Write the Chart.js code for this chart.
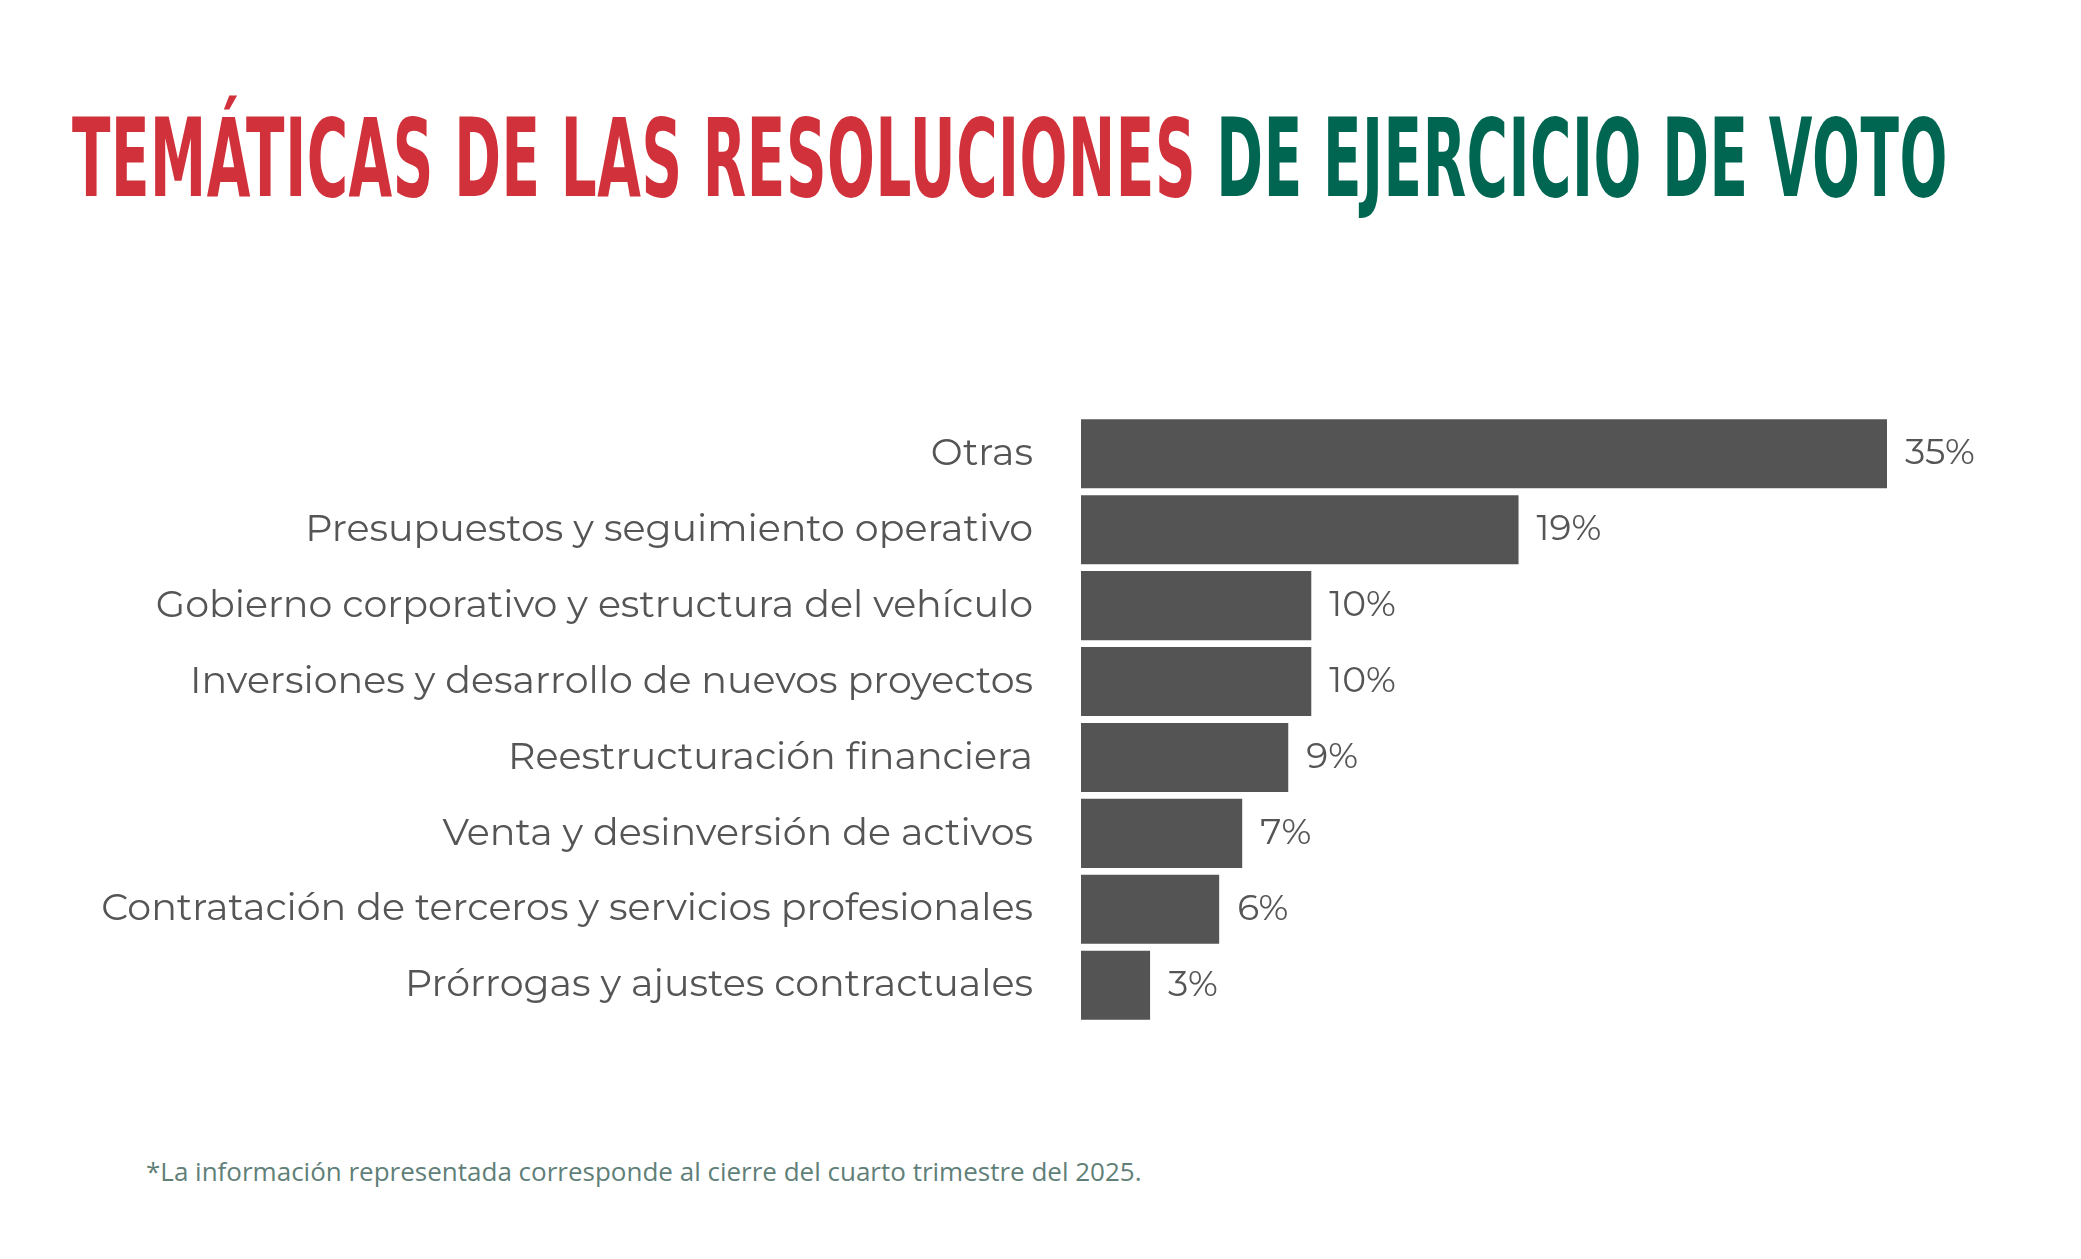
<!DOCTYPE html>
<html>
<head>
<meta charset="utf-8">
<script src="https://cdn.jsdelivr.net/npm/chart.js@4"></script>
<style>
  body { margin: 0; background: #fff; width: 2081px; height: 1259px; position: relative; overflow: hidden; }
  #title { position: absolute; left: 72px; top: 105px; font-family: "Liberation Sans Narrow", "DejaVu Sans Condensed", sans-serif; font-weight: bold; font-size: 108px; letter-spacing: 1px; white-space: nowrap; line-height: 1; transform: scaleX(0.58); transform-origin: left top; }
  #title .r { color: #d1313a; }
  #title .g { color: #006652; }
  #wrap { position: absolute; left: 14px; top: 345px; width: 2000px; height: 749px; }
  #note { position: absolute; left: 146px; top: 1153px; font-family: "Open Sans", sans-serif; font-size: 26px; color: #5f7f78; }
</style>
</head>
<body>
<div id="title"><span class="r">TEMÁTICAS DE LAS RESOLUCIONES</span> <span class="g">DE EJERCICIO DE VOTO</span></div>
<div id="wrap"><canvas id="c"></canvas></div>
<div id="note">*La información representada corresponde al cierre del cuarto trimestre del 2025.</div>
<script>
// categorías y porcentajes
const categories = [
  'Otras',
  'Presupuestos y seguimiento operativo',
  'Gobierno corporativo y estructura del vehículo',
  'Inversiones y desarrollo de nuevos proyectos',
  'Reestructuración financiera',
  'Venta y desinversión de activos',
  'Contratación de terceros y servicios profesionales',
  'Prórrogas y ajustes contractuales'
];
const values = [35, 19, 10, 10, 9, 7, 6, 3];

// etiquetas de valor al final de cada barra
Chart.register({id: 'valueLabels', afterDatasetsDraw: (chart) => {
  const ctx = chart.ctx;
  const meta = chart.getDatasetMeta(0);
  ctx.save();
  ctx.font = '36px Montserrat, "Open Sans", sans-serif';
  ctx.fillStyle = '#555';
  ctx.textBaseline = 'middle';
  meta.data.forEach((bar, i) => {
    ctx.fillText(values[i] + '%', bar.x + 18, bar.y);
  });
  ctx.restore();
}});

new Chart(document.getElementById('c').getContext('2d'), {
  type: 'bar',
  data: {
    labels: categories,
    datasets: [{
      data: values,
      backgroundColor: '#545454',
      barPercentage: 0.91,
      categoryPercentage: 1
    }]
  },
  options: {
    indexAxis: 'y',
    responsive: true,
    maintainAspectRatio: false,
    animation: false,
    layout: { padding: { left: 0, right: 127, top: 0, bottom: 0 } },
    plugins: { legend: { display: false }, tooltip: { enabled: false } },
    scales: {
      x: { display: false, min: 0, max: 35 },
      y: {
        afterFit: (s) => { s.width = 1067; },
        border: { display: false },
        grid: { display: false, drawTicks: false },
        ticks: { padding: 48, color: '#555', font: { size: 38, family: 'Montserrat, "Open Sans", sans-serif' } }
      }
    }
  }
});
</script>
</body>
</html>
